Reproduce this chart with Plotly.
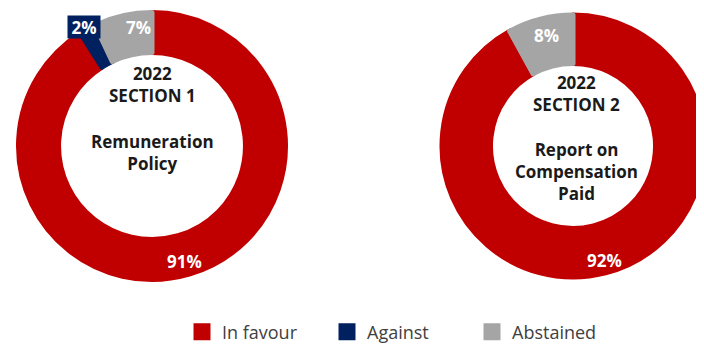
import plotly.graph_objects as go

# ---- data ----
categories = ["In favour", "Against", "Abstained"]
section1_values = [91, 2, 7]
section2_values = [92, 0, 8]
colors = ["#C00000", "#002060", "#A5A5A5"]
section1_title = ["2022", "SECTION 1"]
section1_sub = ["Remuneration", "Policy"]
section2_title = ["2022", "SECTION 2"]
section2_sub = ["Report on", "Compensation", "Paid"]

# the page body has an 8px margin, so the figure is drawn offset by 8px
OFF = 8
W, H = 704 - OFF, 347 - OFF
FONT = "Open Sans"
EDGE = 5  # slice outline in the slice's own colour (also enlarges legend squares)

def px_x(x):
    return (x - OFF) / W

def px_y(y):
    return 1 - (y - OFF) / H

fig = go.Figure()

fig.add_trace(go.Pie(
    labels=categories, values=section1_values, hole=0.70,
    sort=False, direction="clockwise", rotation=0,
    marker=dict(colors=colors, line=dict(width=EDGE, color=colors)),
    textinfo="none",
    domain=dict(x=[px_x(18.5), px_x(285.5)], y=[px_y(279.5), px_y(12.5)]),
    hoverinfo="label+percent", showlegend=True,
))

fig.add_trace(go.Pie(
    labels=categories, values=section2_values, hole=0.63,
    sort=False, direction="clockwise", rotation=0,
    marker=dict(colors=colors,
                line=dict(width=EDGE, color=[colors[0], colors[2], colors[2]])),
    textinfo="none",
    domain=dict(x=[px_x(442), 1.0], y=[px_y(277), px_y(15)]),
    hoverinfo="label+percent", showlegend=True,
))

ann = []
def center_text(lines, x, y):
    ann.append(dict(
        text="<br>".join(lines), x=px_x(x), y=px_y(y), xref="paper", yref="paper",
        xanchor="center", yanchor="middle", showarrow=False, align="center",
        font=dict(family=FONT, size=17, color="#1a1a1a", weight="bold"),
    ))

center_text(section1_title, 152, 84.5)
center_text(section1_sub, 152, 152)
center_text(section2_title, 576, 93.5)
center_text(section2_sub, 576, 171.5)

def pct_label(value, x, y, bg=None):
    d = dict(text=f"{value}%", x=px_x(x), y=px_y(y),
             xref="paper", yref="paper", showarrow=False,
             xanchor="center", yanchor="middle",
             font=dict(family=FONT, size=17, color="white", weight="bold"))
    if bg:
        d.update(bgcolor=bg, width=32, height=22, borderpad=0)
    ann.append(d)

pct_label(section1_values[0], 184, 261)
pct_label(section1_values[1], 84, 27.5, bg=colors[1])
pct_label(section1_values[2], 138, 27.5)
pct_label(section2_values[0], 604, 260)
pct_label(section2_values[2], 546, 35)

fig.update_layout(
    width=W, height=H,
    margin=dict(l=0, r=0, t=0, b=0, autoexpand=False),
    paper_bgcolor="white", plot_bgcolor="white",
    annotations=ann,
    legend=dict(
        orientation="h", x=px_x(182), xanchor="left", y=px_y(332), yanchor="middle",
        font=dict(family=FONT, size=18, color="#404040"),
        entrywidth=100, bgcolor="rgba(0,0,0,0)",
    ),
)

fig.write_html("out.html")
